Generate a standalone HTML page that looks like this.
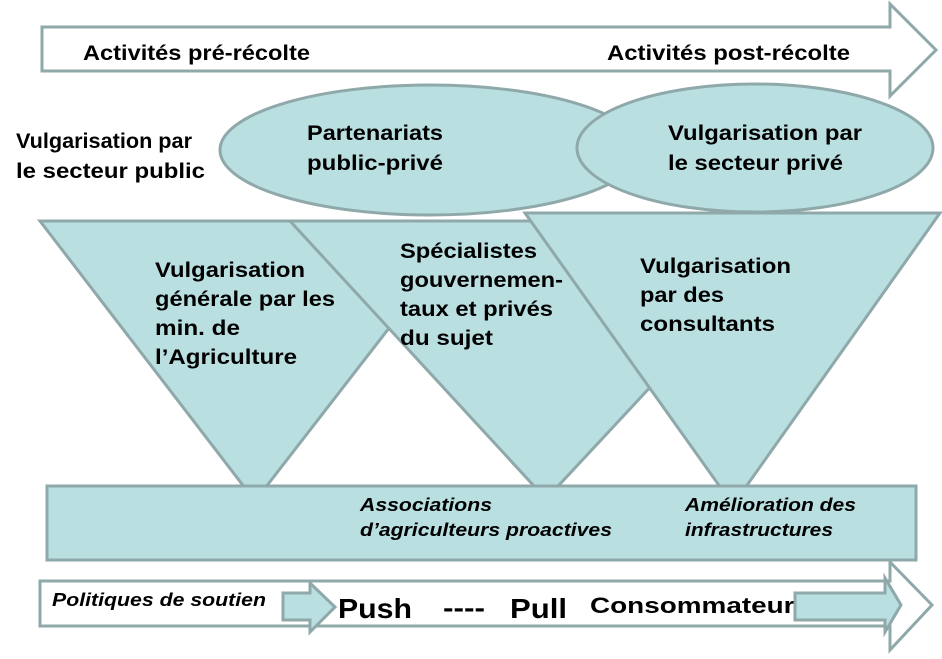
<!DOCTYPE html>
<html><head><meta charset="utf-8"><style>
body{margin:0;background:#fff}
svg text{font-family:"Liberation Sans",sans-serif;font-weight:bold;fill:#000}
</style></head><body>
<svg width="942" height="654" viewBox="0 0 942 654">
<g stroke="#8fa8aa" stroke-width="3">
<polygon points="42,27 890,27 890,4 936,50 890,96 890,71 42,71" fill="#fff"/>
<ellipse cx="430" cy="150" rx="210" ry="65" fill="#b9dfe1"/>
<ellipse cx="755" cy="148" rx="178" ry="64" fill="#b9dfe1"/>
<polygon points="40,221 472,221 255,501" fill="#b9dfe1"/>
<polygon points="290,221 805,221 546,499" fill="#b9dfe1"/>
<polygon points="525,213 940,213 733,505" fill="#b9dfe1"/>
<rect x="47" y="486" width="869" height="74" fill="#b9dfe1"/>
<polygon points="40,581 890,581 890,562 932,605 890,650 890,626 40,626" fill="#fff"/>
<polygon points="283,593 310,593 310,583 335,607 310,632 310,620 283,620" fill="#b9dfe1"/>
</g>
<g font-size="21">
<text x="83" y="60" textLength="227" lengthAdjust="spacingAndGlyphs">Activités pré-récolte</text>
<text x="607" y="60" textLength="243" lengthAdjust="spacingAndGlyphs">Activités post-récolte</text>
<text x="16" y="148" textLength="176" lengthAdjust="spacingAndGlyphs">Vulgarisation par</text>
<text x="16" y="178" textLength="189" lengthAdjust="spacingAndGlyphs">le secteur public</text>
<text x="307" y="140" textLength="136" lengthAdjust="spacingAndGlyphs">Partenariats</text>
<text x="307" y="170" textLength="136" lengthAdjust="spacingAndGlyphs">public-privé</text>
<text x="668" y="140" textLength="194" lengthAdjust="spacingAndGlyphs">Vulgarisation par</text>
<text x="668" y="170" textLength="175" lengthAdjust="spacingAndGlyphs">le secteur privé</text>
<text x="155" y="277" textLength="150" lengthAdjust="spacingAndGlyphs">Vulgarisation</text>
<text x="155" y="306" textLength="180" lengthAdjust="spacingAndGlyphs">générale par les</text>
<text x="155" y="335" textLength="85" lengthAdjust="spacingAndGlyphs">min. de</text>
<text x="155" y="364" textLength="142" lengthAdjust="spacingAndGlyphs">l’Agriculture</text>
<text x="400" y="258" textLength="137" lengthAdjust="spacingAndGlyphs">Spécialistes</text>
<text x="400" y="287" textLength="163" lengthAdjust="spacingAndGlyphs">gouvernemen-</text>
<text x="400" y="316" textLength="153" lengthAdjust="spacingAndGlyphs">taux et privés</text>
<text x="400" y="345" textLength="93" lengthAdjust="spacingAndGlyphs">du sujet</text>
<text x="640" y="273" textLength="151" lengthAdjust="spacingAndGlyphs">Vulgarisation</text>
<text x="640" y="302" textLength="84" lengthAdjust="spacingAndGlyphs">par des</text>
<text x="640" y="331" textLength="135" lengthAdjust="spacingAndGlyphs">consultants</text>
</g>
<g font-size="18" font-style="italic">
<text x="360" y="511" textLength="132" lengthAdjust="spacingAndGlyphs">Associations</text>
<text x="360" y="536" textLength="252" lengthAdjust="spacingAndGlyphs">d’agriculteurs proactives</text>
<text x="685" y="511" textLength="171" lengthAdjust="spacingAndGlyphs">Amélioration des</text>
<text x="685" y="536" textLength="148" lengthAdjust="spacingAndGlyphs">infrastructures</text>
</g>
<text x="52" y="606" font-size="18" font-style="italic" textLength="214" lengthAdjust="spacingAndGlyphs">Politiques de soutien</text>
<text x="338" y="618" font-size="28" textLength="74" lengthAdjust="spacingAndGlyphs">Push</text>
<text x="443" y="617" font-size="27" textLength="42" lengthAdjust="spacingAndGlyphs">----</text>
<text x="510" y="618" font-size="28" textLength="57" lengthAdjust="spacingAndGlyphs">Pull</text>
<text x="590" y="613" font-size="22" textLength="220" lengthAdjust="spacingAndGlyphs">Consommateurs</text>
<polygon points="795,593 885,593 885,578 901,605 885,632 885,620 795,620" fill="#b9dfe1" stroke="#8fa8aa" stroke-width="3"/>
</svg>
</body></html>
